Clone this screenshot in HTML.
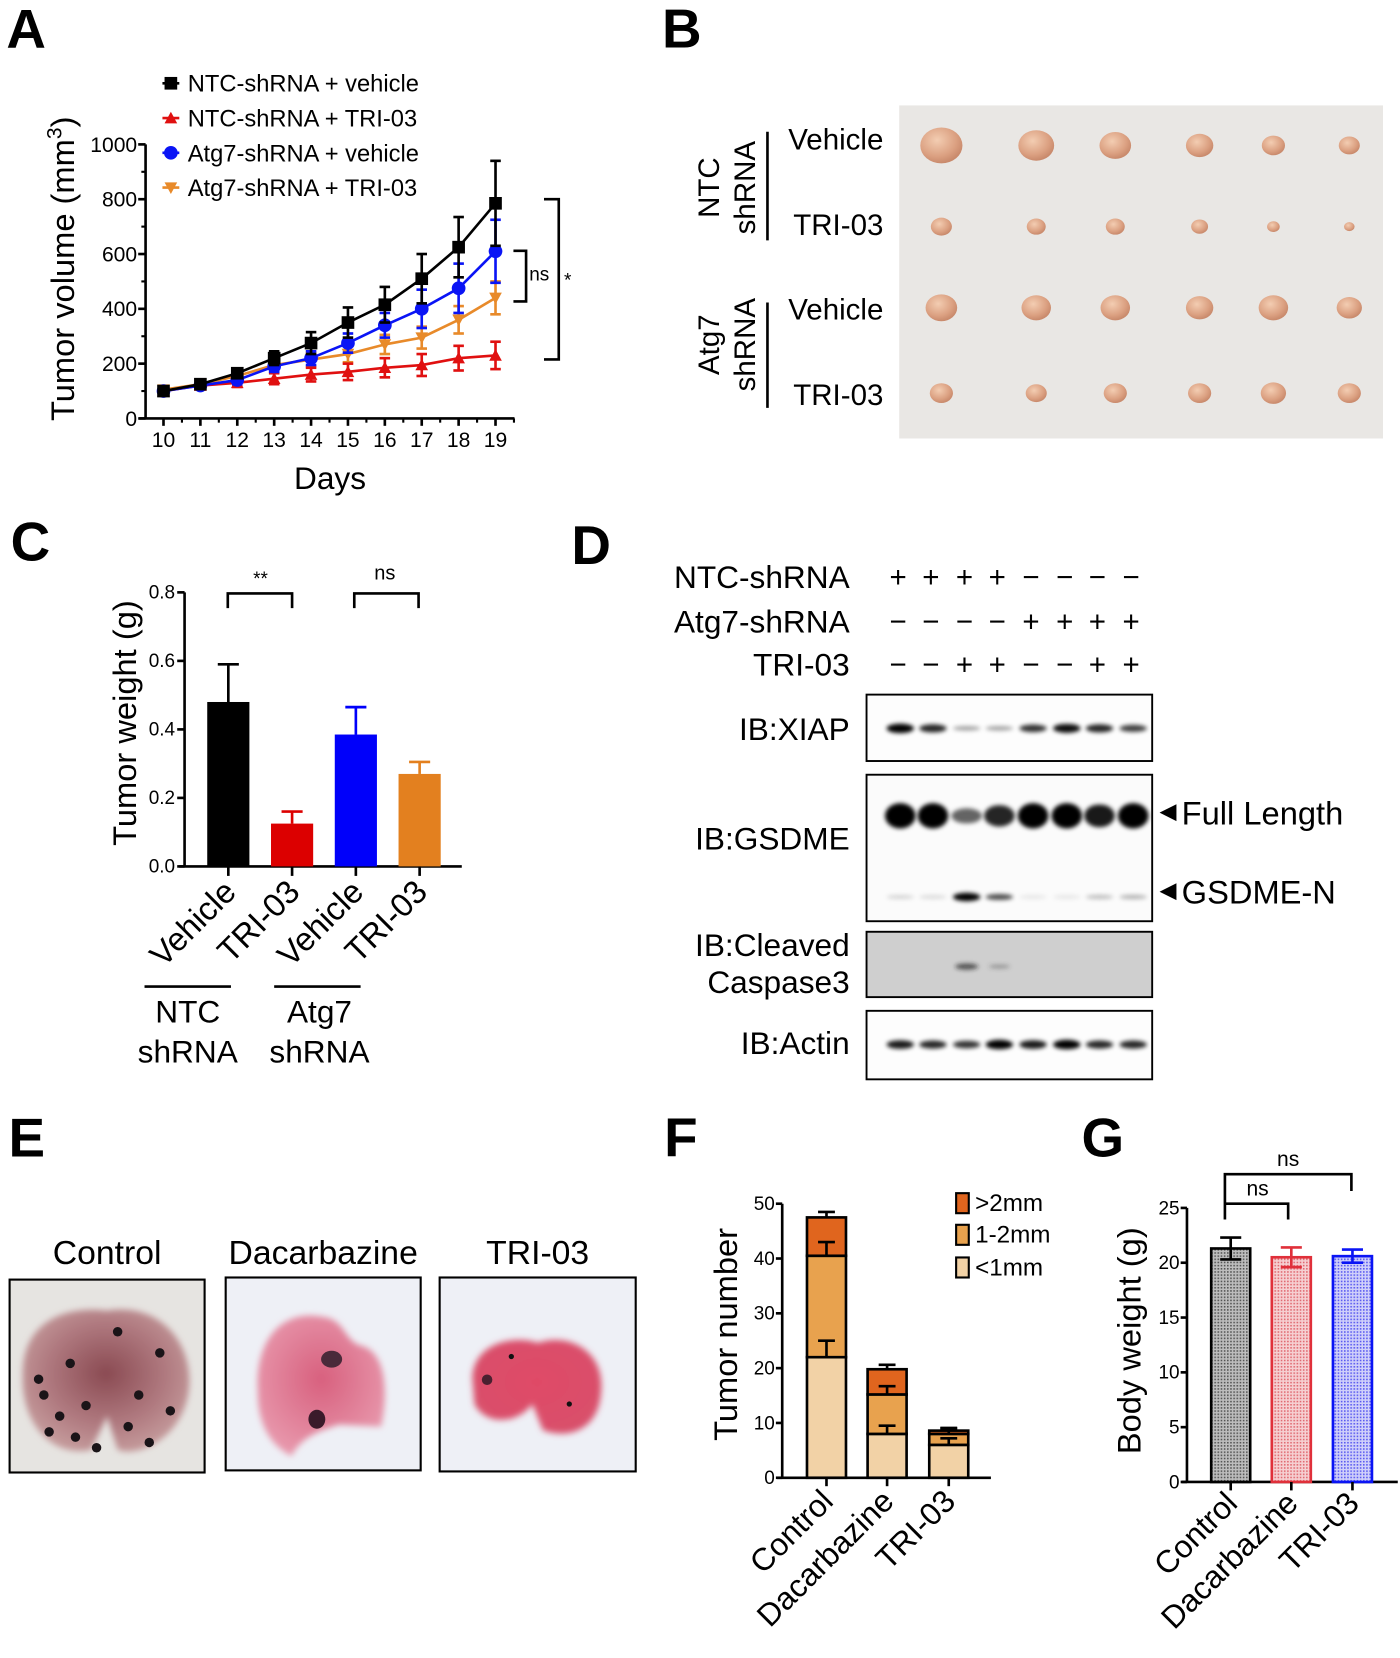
<!DOCTYPE html>
<html><head><meta charset="utf-8"><style>
html,body{margin:0;padding:0;background:#fff}
svg{display:block}
text{font-family:"Liberation Sans",Arial,sans-serif;fill:#000}
</style></head><body>
<svg id="fig" width="1400" height="1658" viewBox="0 0 1328 1573" xmlns="http://www.w3.org/2000/svg">
<defs>
<filter id="blur" x="-50%" y="-100%" width="200%" height="300%"><feGaussianBlur stdDeviation="2"/></filter>
<filter id="blur3"><feGaussianBlur stdDeviation="3"/></filter>
<pattern id="patK" width="3" height="3" patternUnits="userSpaceOnUse"><rect width="3" height="3" fill="#bdbdbd"/><rect width="1.5" height="1.5" fill="#555"/></pattern>
<pattern id="patR" width="3" height="3" patternUnits="userSpaceOnUse"><rect width="3" height="3" fill="#f6d0d2"/><rect width="1.5" height="1.5" fill="#e06a72"/></pattern>
<pattern id="patB" width="3" height="3" patternUnits="userSpaceOnUse"><rect width="3" height="3" fill="#d0d0fa"/><rect width="1.5" height="1.5" fill="#5a5af0"/></pattern>
<radialGradient id="tumor" cx="40%" cy="35%" r="65%"><stop offset="0" stop-color="#f3cdb2"/><stop offset="0.7" stop-color="#dba081"/><stop offset="1" stop-color="#c98a6c"/></radialGradient>
<radialGradient id="lungC" cx="50%" cy="45%" r="60%"><stop offset="0" stop-color="#8a4a52"/><stop offset="0.6" stop-color="#b07a80"/><stop offset="1" stop-color="#c8a0a0"/></radialGradient>
<radialGradient id="lungD" cx="50%" cy="45%" r="60%"><stop offset="0" stop-color="#d8607e"/><stop offset="1" stop-color="#e89aae"/></radialGradient>
<radialGradient id="lungT" cx="50%" cy="45%" r="60%"><stop offset="0" stop-color="#e04a66"/><stop offset="1" stop-color="#d8506c"/></radialGradient>
</defs>

<text x="6" y="45" font-size="52" font-weight="bold">A</text>
<text x="628" y="45" font-size="52" font-weight="bold">B</text>
<text x="10" y="532" font-size="52" font-weight="bold">C</text>
<text x="542" y="535" font-size="52" font-weight="bold">D</text>
<text x="8" y="1097" font-size="52" font-weight="bold">E</text>
<text x="630" y="1097" font-size="52" font-weight="bold">F</text>
<text x="1026" y="1097" font-size="52" font-weight="bold">G</text>

<g id="panelA"></g>
<g id="panelB"></g>
<g id="panelC"></g>
<g id="panelD"></g>
<g id="panelE"></g>
<g id="panelF"></g>
<g id="panelG"></g>
</svg>
<script>
// ---------- Panel A data ----------
const daysA = [10,11,12,13,14,15,16,17,18,19];
const yTicksA = [0,200,400,600,800,1000];
const ntcVeh = [100,125,165,220,275,350,415,510,625,785];
const ntcVehErr = [10,10,15,25,40,55,65,90,110,155];
const ntcTri = [100,120,130,145,160,170,185,195,220,230];
const ntcTriErr = [10,10,15,20,25,30,35,40,45,50];
const atgVeh = [100,120,140,190,220,275,340,400,475,610];
const atgVehErr = [10,10,15,20,25,35,45,70,90,115];
const atgTri = [105,125,155,195,215,235,270,295,360,440];
const atgTriErr = [10,10,15,20,25,30,35,40,50,60];
const legendA = ["NTC-shRNA + vehicle","NTC-shRNA + TRI-03","Atg7-shRNA + vehicle","Atg7-shRNA + TRI-03"];
// ---------- Panel C data ----------
const catsC = ["Vehicle","TRI-03","Vehicle","TRI-03"];
const valsC = [0.48,0.125,0.385,0.27];
const errC = [0.11,0.035,0.08,0.035];
const yTicksC = ["0.0","0.2","0.4","0.6","0.8"];
// ---------- Panel F data ----------
const catsF = ["Control","Dacarbazine","TRI-03"];
const lt1mm = [22,8,6];
const mm1to2 = [18.5,7.2,2];
const gt2mm = [7,4.6,0.6];
const lt1mmErr = [3,1.5,1.2];
const mm1to2Err = [2.5,1.5,1];
const gt2mmErr = [1,0.8,0.5];
const yTicksF = [0,10,20,30,40,50];
// ---------- Panel G data ----------
const catsG = ["Control","Dacarbazine","TRI-03"];
const valsG = [21.3,20.5,20.6];
const errG = [1.0,0.9,0.6];
const yTicksG = [0,5,10,15,20,25];
// ---------- Panel D data ----------
const ntcRow = ["+","+","+","+","−","−","−","−"];
const atgRow = ["−","−","−","−","+","+","+","+"];
const triRow = ["−","−","+","+","−","−","+","+"];
const xiapBand = [1,0.85,0.35,0.35,0.8,0.95,0.85,0.75];
const fullBand = [1,1,0.6,0.85,1,1,0.9,1];
const nBand = [0.15,0.12,1,0.7,0.08,0.08,0.25,0.3];
const actinBand = [0.9,0.85,0.8,1,0.9,1,0.85,0.85];

const NS="http://www.w3.org/2000/svg";
function mk(parent,tag,attrs,txt){const e=document.createElementNS(NS,tag);for(const k in attrs)e.setAttribute(k,attrs[k]);if(txt!==undefined)e.textContent=txt;parent.appendChild(e);return e;}
function line(p,x1,y1,x2,y2,c,w){return mk(p,'line',{x1,y1,x2,y2,stroke:c||'#000','stroke-width':w||2.5});}

// ================= Panel A =================
(function(){
const g=document.getElementById('panelA');
const xA=d=>155+(d-10)*35, yA=v=>397-v*0.26;
let e;
e=line(g,138,yA(1000),138,397);


e=line(g,132,397,488,397);


yTicksA.forEach(t=>{line(g,131,yA(t),138,yA(t));
 e=mk(g,'text',{x:130,y:yA(t)+7,'font-size':20,'text-anchor':'end'},t);
 
 
 if(t<1000){line(g,134,yA(t+100),138,yA(t+100),'#000',2);} });
daysA.forEach(d=>{line(g,xA(d),397,xA(d),404);line(g,xA(d)+17.5,397,xA(d)+17.5,401,'#000',2);
 e=mk(g,'text',{x:xA(d),y:424,'font-size':20,'text-anchor':'middle'},d);
 
 });
e=mk(g,'text',{x:313,y:464,'font-size':30,'text-anchor':'middle'},'Days');


const yt=mk(g,'text',{x:0,y:0,'font-size':31,'text-anchor':'middle',transform:'translate(70,255) rotate(-90)'});


yt.appendChild(document.createTextNode('Tumor volume (mm'));
mk(yt,'tspan',{'font-size':20,dy:-12},'3');
mk(yt,'tspan',{dy:12},')');
const series=[[ntcVeh,ntcVehErr,'#000','sq'],[ntcTri,ntcTriErr,'#e01010','tri'],[atgVeh,atgVehErr,'#0a14f5','circ'],[atgTri,atgTriErr,'#e88a2a','itri']];
function marker(p,x,y,type,c){
 if(type==='sq')return mk(p,'rect',{x:x-6,y:y-6,width:12,height:12,fill:c});
 if(type==='circ')return mk(p,'circle',{cx:x,cy:y,r:6.5,fill:c});
 if(type==='tri')return mk(p,'path',{d:`M${x-6} ${y+5}L${x} ${y-6}L${x+6} ${y+5}Z`,fill:c});
 return mk(p,'path',{d:`M${x-6} ${y-5}L${x} ${y+6}L${x+6} ${y-5}Z`,fill:c});}
const order=[3,1,2,0];
order.forEach(i=>{const [v,er,c,t]=series[i];
 const sg=mk(g,'g',{});
 
 
 mk(sg,'polyline',{points:daysA.map((d,j)=>xA(d)+','+yA(v[j])).join(' '),fill:'none',stroke:c,'stroke-width':2.5});
 daysA.forEach((d,j)=>{const x=xA(d);line(sg,x,yA(v[j]-er[j]),x,yA(v[j]+er[j]),c,2.5);
  line(sg,x-5,yA(v[j]+er[j]),x+5,yA(v[j]+er[j]),c,2.5);line(sg,x-5,yA(v[j]-er[j]),x+5,yA(v[j]-er[j]),c,2.5);
  const m=marker(sg,x,yA(v[j]),t,c);
  
  });
});
legendA.forEach((l,i)=>{const y=87+i*33;const lg=mk(g,'g',{});
 
 
 const [v,er,c,t]=series[i];line(lg,154,y-8,170,y-8,c,2.5);marker(lg,162,y-8,t,c);
 mk(lg,'text',{x:178,y:y,'font-size':22.5},l);});
mk(g,'path',{d:'M487 238H499V286H487',fill:'none',stroke:'#000','stroke-width':2.5});
mk(g,'text',{x:502,y:266,'font-size':18},'ns');
mk(g,'path',{d:'M516 189H530V341H516',fill:'none',stroke:'#000','stroke-width':2.5});
mk(g,'text',{x:535,y:272,'font-size':18},'*');
})();

// ================= Panel B =================
(function(){
const g=document.getElementById('panelB');let e;
e=mk(g,'rect',{x:853,y:100,width:459,height:316,fill:'#e9e7e4'});


const rows=[133,214,294,375],labs=['Vehicle','TRI-03','Vehicle','TRI-03'];
rows.forEach((y,i)=>{e=mk(g,'text',{x:838,y:y+9,'font-size':28,'text-anchor':'end'},labs[i]);
 
 });
line(g,728,125,728,228,'#000',2.5);line(g,728,287,728,387,'#000',2.5);
[['NTC',178],['Atg7',327]].forEach(([n,y])=>{
 e=mk(g,'text',{x:0,y:0,'font-size':28,'text-anchor':'middle',transform:`translate(682,${y}) rotate(-90)`},n);
 
 
 mk(g,'text',{x:0,y:0,'font-size':28,'text-anchor':'middle',transform:`translate(716,${y}) rotate(-90)`},'shRNA');});
const cols=[893,983,1058,1138,1208,1280];
const rowsY=[138,215,292,373];
const sz=[[20,17,15,13,11,10],[10,9,9,8,6,5],[15,14,14,13,14,12],[11,10,11,11,12,11]];
rowsY.forEach((y,r)=>cols.forEach((x,c)=>{const s=sz[r][c];
 e=mk(g,'ellipse',{cx:x,cy:y,rx:s,ry:s*0.85,fill:'url(#tumor)'});
 
 }));
})();

// ================= Panel C =================
(function(){
const g=document.getElementById('panelC');let e;
const yC=v=>822-v*325;const xs=[216.5,277,337.5,398];
e=line(g,175,562,175,822);
e=line(g,170,822,438,822);
yTicksC.forEach(t=>{const v=parseFloat(t);line(g,168,yC(v),175,yC(v));
 e=mk(g,'text',{x:166,y:yC(v)+6,'font-size':18,'text-anchor':'end'},t);
 });
const cols=['#000','#dc0000','#0000fa','#e3801f'];
valsC.forEach((v,i)=>{const x=xs[i];
 line(g,x,yC(v),x,yC(v+errC[i]),cols[i],2.5);line(g,x-10,yC(v+errC[i]),x+10,yC(v+errC[i]),cols[i],2.5);
 const b=mk(g,'rect',{x:x-20,y:yC(v),width:40,height:yC(0)-yC(v),fill:cols[i]});
 
 line(g,x,822,x,831);
 e=mk(g,'text',{x:x+9,y:848,'font-size':31,'text-anchor':'end',transform:`rotate(-45 ${x+9} 848)`},catsC[i]);
 });
line(g,137,936,219,936,'#000',2.5);line(g,260,936,342,936,'#000',2.5);
[['NTC',178],['Atg7',303]].forEach(([n,x])=>{
 e=mk(g,'text',{x:x,y:970,'font-size':30,'text-anchor':'middle'},n);
 mk(g,'text',{x:x,y:1008,'font-size':30,'text-anchor':'middle'},'shRNA');});
mk(g,'path',{d:'M216 577V563H277V577',fill:'none',stroke:'#000','stroke-width':2.5});
mk(g,'text',{x:247,y:555,'font-size':18,'text-anchor':'middle'},'**');
mk(g,'path',{d:'M336 577V563H397V577',fill:'none',stroke:'#000','stroke-width':2.5});
mk(g,'text',{x:365,y:550,'font-size':19,'text-anchor':'middle'},'ns');
e=mk(g,'text',{x:0,y:0,'font-size':31,'text-anchor':'middle',transform:'translate(129,686) rotate(-90)'},'Tumor weight (g)');

})();

// ================= Panel D =================
(function(){
const g=document.getElementById('panelD');let e;
const lx=[854,885,917,948,980,1012,1043,1075];
[['NTC-shRNA',558,ntcRow],['Atg7-shRNA',600,atgRow],['TRI-03',641,triRow]].forEach(([l,y,row])=>{
 e=mk(g,'text',{x:806,y:y,'font-size':30,'text-anchor':'end'},l);
 row.forEach((s)=>{});
 row.forEach((s,i)=>{mk(g,'text',{x:lx[i]-2,y:y-1,'font-size':28,'text-anchor':'middle'},s);});});
const boxes=[['IB:XIAP',659,63,702,'#fdfdfd'],['IB:GSDME',735,139,806,'#fbfbfb'],[null,884,62,0,'#cfcfcf'],['IB:Actin',959,65,1000,'#fdfdfd']];
boxes.forEach(([l,y,h,ty,f])=>{e=mk(g,'rect',{x:822,y:y,width:271,height:h,fill:f,stroke:'#000','stroke-width':1.8});
 
 if(l){e=mk(g,'text',{x:806,y:ty,'font-size':30,'text-anchor':'end'},l);}});
mk(g,'text',{x:806,y:907,'font-size':30,'text-anchor':'end'},'IB:Cleaved');
mk(g,'text',{x:806,y:942,'font-size':30,'text-anchor':'end'},'Caspase3');
function bands(arr,y,h,w){arr.forEach((v,i)=>{const b=mk(g,'ellipse',{cx:lx[i],cy:y,rx:w/2,ry:h/2*Math.max(0.5,v),fill:'#000','fill-opacity':Math.min(1,v),filter:'url(#blur)'});
 });}
bands(xiapBand,691,9,26);
bands(fullBand,774,24,29);
bands(nBand,851,8,26);
bands(actinBand,991,9,26);
mk(g,'ellipse',{cx:917,cy:917,rx:11,ry:3,fill:'#222','fill-opacity':0.7,filter:'url(#blur)'});
mk(g,'ellipse',{cx:948,cy:917,rx:10,ry:2,fill:'#444','fill-opacity':0.4,filter:'url(#blur)'});
mk(g,'path',{d:'M1100 771L1116 763V779Z',fill:'#000'});
e=mk(g,'text',{x:1121,y:782,'font-size':31},'Full Length');
mk(g,'path',{d:'M1100 846L1116 838V854Z',fill:'#000'});
e=mk(g,'text',{x:1121,y:857,'font-size':31},'GSDME-N');
})();

// ================= Panel E =================
(function(){
const g=document.getElementById('panelE');let e;
const ps=[['Control',9,1214,185,183,'#e6e4e1','url(#lungC)'],['Dacarbazine',214,1212,185,183,'#eef0f6','url(#lungD)'],['TRI-03',417,1212,186,184,'#eef0f6','url(#lungT)']];
ps.forEach(([t,x,y,w,h,bg,lf],i)=>{
 e=mk(g,'text',{x:x+w/2,y:1199,'font-size':32,'text-anchor':'middle'},t);
 e=mk(g,'rect',{x:x,y:y,width:w,height:h,fill:bg,stroke:'#000','stroke-width':2});
 const cx=x+w/2,cy=y+h/2+8;
 if(i===0){mk(g,'path',{d:`M${cx-80} ${cy-10}C${cx-80} ${cy-60} ${cx-40} ${cy-75} ${cx} ${cy-70}C${cx+50} ${cy-78} ${cx+80} ${cy-40} ${cx+78} ${cy}C${cx+75} ${cy+50} ${cx+30} ${cy+70} ${cx+10} ${cy+62}L${cx} ${cy+30}L${cx-15} ${cy+62}C${cx-50} ${cy+70} ${cx-82} ${cy+40} ${cx-80} ${cy-10}Z`,fill:lf,filter:'url(#blur3)'});
  const sp=[[-60,10],[-45,30],[-30,50],[-55,45],[-20,20],[20,40],[40,55],[60,25],[-35,-20],[10,-50],[50,-30],[-65,-5],[30,10],[-10,60]];
  sp.forEach(([dx,dy])=>mk(g,'circle',{cx:cx+dx,cy:cy+dy,r:4.5,fill:'#1a1418'}));}
 else if(i===1){mk(g,'path',{d:`M${cx-62} ${cy+10}C${cx-65} ${cy-40} ${cx-40} ${cy-70} ${cx} ${cy-62}C${cx+20} ${cy-60} ${cx+20} ${cy-40} ${cx+35} ${cy-35}C${cx+60} ${cy-30} ${cx+62} ${cy+10} ${cx+55} ${cy+42}L${cx+15} ${cy+40}C${cx} ${cy+45} ${cx-20} ${cy+50} ${cx-30} ${cy+70}C${cx-50} ${cy+60} ${cx-62} ${cy+40} ${cx-62} ${cy+10}Z`,fill:lf,filter:'url(#blur3)'});
  mk(g,'ellipse',{cx:cx+8,cy:cy-22,rx:10,ry:8,fill:'#4a2a3a'});mk(g,'ellipse',{cx:cx-6,cy:cy+35,rx:8,ry:9,fill:'#3a1a2a'});}
 else {mk(g,'path',{d:`M${cx-62} ${cy-5}C${cx-60} ${cy-40} ${cx-20} ${cy-45} ${cx} ${cy-38}C${cx+30} ${cy-48} ${cx+65} ${cy-30} ${cx+60} ${cy+10}C${cx+58} ${cy+40} ${cx+35} ${cy+55} ${cx+5} ${cy+45}L${cx-5} ${cy+20}C${cx-20} ${cy+40} ${cx-50} ${cy+40} ${cx-60} ${cy+20}Z`,fill:lf,filter:'url(#blur3)'});
  mk(g,'circle',{cx:cx-48,cy:cy-3,r:5,fill:'#4a2030'});mk(g,'circle',{cx:cx-25,cy:cy-25,r:2.5,fill:'#111'});mk(g,'circle',{cx:cx+30,cy:cy+20,r:2.5,fill:'#111'});}
});
})();

// ================= Panel F =================
(function(){
const g=document.getElementById('panelF');let e;
const yF=v=>1402-v*5.2;const xs=[784,841.5,900];const bw=37;
e=line(g,742,yF(50),742,1402);
e=line(g,737,1402,940,1402);
yTicksF.forEach(t=>{line(g,736,yF(t),742,yF(t));
 e=mk(g,'text',{x:735,y:yF(t)+6,'font-size':18,'text-anchor':'end'},t);});
const segs=[[lt1mm,lt1mmErr,'#f2d2a6','lt-1mm'],[mm1to2,mm1to2Err,'#e8a24e','1-2mm'],[gt2mm,gt2mmErr,'#e0651e','gt-2mm']];
catsF.forEach((c,i)=>{let base=0;const x=xs[i];
 segs.forEach(([vals,errs,col,nm])=>{const top=base+vals[i];
  const r=mk(g,'rect',{x:x-bw/2,y:yF(top),width:bw,height:yF(base)-yF(top),fill:col,stroke:'#000','stroke-width':2.5});
  
  base=top;});
 base=0;
 segs.forEach(([vals,errs])=>{const top=base+vals[i];line(g,x,yF(top),x,yF(top+errs[i]));line(g,x-8,yF(top+errs[i]),x+8,yF(top+errs[i]));base=top;});
 line(g,x,1402,x,1410);
 e=mk(g,'text',{x:x+8,y:1426,'font-size':30,'text-anchor':'end',transform:`rotate(-45 ${x+8} 1426)`},c);
 });
[['>2mm','#e0651e',1132],['1-2mm','#e8a24e',1162],['<1mm','#f2d2a6',1193]].forEach(([l,c,y])=>{const lg=mk(g,'g',{});
 
 mk(lg,'rect',{x:907,y:y,width:12,height:19,fill:c,stroke:'#000','stroke-width':2});
 mk(lg,'text',{x:925,y:y+17,'font-size':23},l);});
e=mk(g,'text',{x:0,y:0,'font-size':31,'text-anchor':'middle',transform:'translate(699,1266) rotate(-90)'},'Tumor number');

})();

// ================= Panel G =================
(function(){
const g=document.getElementById('panelG');let e;
const yG=v=>1406-v*10.4;const xs=[1167.5,1225,1283];const bw=37;
e=line(g,1126,yG(25),1126,1406);
e=line(g,1121,1406,1326,1406);
yTicksG.forEach(t=>{line(g,1120,yG(t),1126,yG(t));
 e=mk(g,'text',{x:1119,y:yG(t)+6,'font-size':18,'text-anchor':'end'},t);});
const fills=['url(#patK)','url(#patR)','url(#patB)'],strokes=['#000','#e0303a','#0a14f5'];
catsG.forEach((c,i)=>{const x=xs[i],v=valsG[i];
 const r=mk(g,'rect',{x:x-bw/2,y:yG(v),width:bw,height:yG(0)-yG(v),fill:fills[i],stroke:strokes[i],'stroke-width':2.5});
 
 line(g,x,yG(v-errG[i]),x,yG(v+errG[i]),strokes[i]);
 line(g,x-10,yG(v+errG[i]),x+10,yG(v+errG[i]),strokes[i]);line(g,x-10,yG(v-errG[i]),x+10,yG(v-errG[i]),strokes[i]);
 line(g,x,1406,x,1414);
 e=mk(g,'text',{x:x+8,y:1428,'font-size':30,'text-anchor':'end',transform:`rotate(-45 ${x+8} 1428)`},c);
 });
mk(g,'path',{d:'M1162 1157V1114H1282V1130',fill:'none',stroke:'#000','stroke-width':2.5});
mk(g,'path',{d:'M1162 1142H1222V1157',fill:'none',stroke:'#000','stroke-width':2.5});
mk(g,'text',{x:1193,y:1134,'font-size':20,'text-anchor':'middle'},'ns');
mk(g,'text',{x:1222,y:1106,'font-size':20,'text-anchor':'middle'},'ns');
e=mk(g,'text',{x:0,y:0,'font-size':31,'text-anchor':'middle',transform:'translate(1082,1272) rotate(-90)'},'Body weight (g)');

})();
</script>
</body></html>
